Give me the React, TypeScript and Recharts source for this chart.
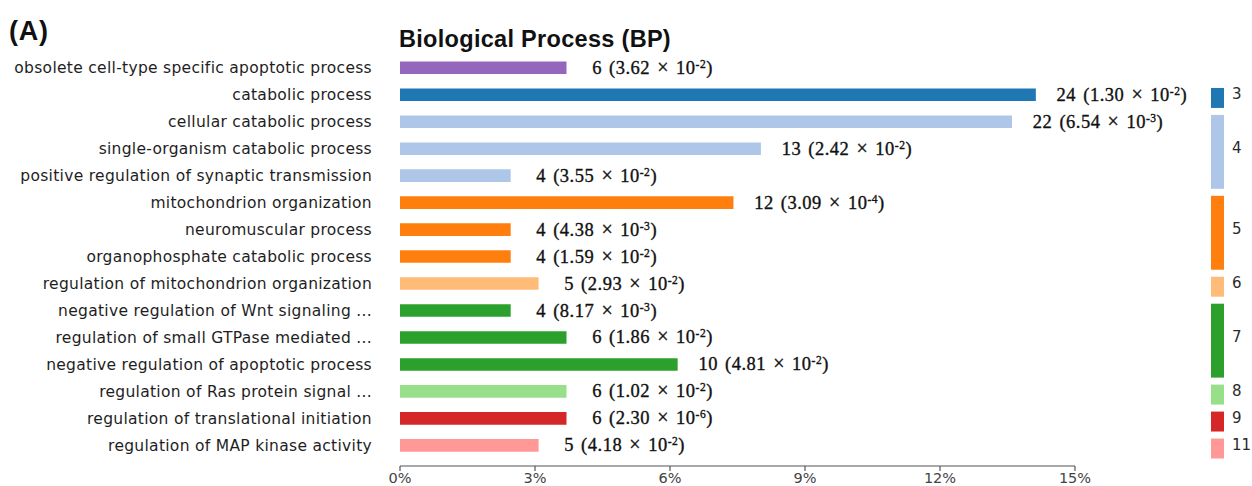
import React from 'react';
import { BarChart, Bar, XAxis, YAxis, Cell, LabelList } from 'recharts';

const categories = [
  'obsolete cell-type specific apoptotic process',
  'catabolic process',
  'cellular catabolic process',
  'single-organism catabolic process',
  'positive regulation of synaptic transmission',
  'mitochondrion organization',
  'neuromuscular process',
  'organophosphate catabolic process',
  'regulation of mitochondrion organization',
  'negative regulation of Wnt signaling ...',
  'regulation of small GTPase mediated ...',
  'negative regulation of apoptotic process',
  'regulation of Ras protein signal ...',
  'regulation of translational initiation',
  'regulation of MAP kinase activity',
];
const percents = [3.7, 14.13, 13.6, 8.02, 2.46, 7.41, 2.46, 2.46, 3.08, 2.46, 3.7, 6.17, 3.7, 3.7, 3.08];
const counts = [6, 24, 22, 13, 4, 12, 4, 4, 5, 4, 6, 10, 6, 6, 5];
const pMantissa = ['3.62', '1.30', '6.54', '2.42', '3.55', '3.09', '4.38', '1.59', '2.93', '8.17', '1.86', '4.81', '1.02', '2.30', '4.18'];
const pExponent = [2, 2, 3, 2, 2, 4, 3, 2, 2, 3, 2, 2, 2, 6, 2];
const clusters: (number | null)[] = [null, 3, 4, 4, 4, 5, 5, 5, 6, 7, 7, 7, 8, 9, 11];
const barColors = [
  '#9467bd', '#1f77b4', '#aec7e8', '#aec7e8', '#aec7e8', '#ff7f0e', '#ff7f0e', '#ff7f0e',
  '#ffbb78', '#2ca02c', '#2ca02c', '#2ca02c', '#98df8a', '#d62728', '#ff9896',
];
const xTicks = [0, 3, 6, 9, 12, 15];

const data = categories.map((c, i) => ({
  category: c,
  pct: percents[i],
  count: counts[i],
  mant: pMantissa[i],
  exp: pExponent[i],
  cluster: clusters[i],
  color: barColors[i],
}));

const SANS = 'DejaVu Sans, Bitstream Vera Sans, sans-serif';

const CategoryTick = (props: any) => {
  const { x, y, payload } = props;
  return (
    <text x={x} y={y} dy={5.5} textAnchor="end" fontFamily={SANS} fontSize={15.5} letterSpacing={0.3} fill="#1e1e1e">
      {payload.value}
    </text>
  );
};

const ClusterTick = (props: any) => {
  const { x, y, index } = props;
  const c = clusters[index];
  if (c == null) return null;
  const band = props.payload && props.payload.offset ? props.payload.offset * 2 : 27;
  const first = index === 0 || clusters[index - 1] !== c;
  const last = index === clusters.length - 1 || clusters[index + 1] !== c;
  const top = y - band / 2 + (first ? 6.5 : -0.5);
  const bottom = y + band / 2 - (last ? 0.5 : -0.5);
  let groupStart = index;
  while (groupStart > 0 && clusters[groupStart - 1] === c) groupStart--;
  let groupEnd = index;
  while (groupEnd < clusters.length - 1 && clusters[groupEnd + 1] === c) groupEnd++;
  const isMid = index === Math.floor((groupStart + groupEnd) / 2);
  return (
    <g>
      <rect x={x + 136} y={top} width={13} height={bottom - top} fill={barColors[index]} />
      {isMid && (
        <text x={x + 157} y={y} dy={4.5} textAnchor="start" fontFamily={SANS} fontSize={15} fill="#2a2a2a">
          {c}
        </text>
      )}
    </g>
  );
};

const ValueLabel = (props: any) => {
  const { x, y, width, height } = props;
  let idx = props.index;
  if (idx == null) idx = data.findIndex((d) => d.category === props.value);
  const d = data[idx];
  if (!d) return null;
  const cx = Number(x) + Number(width) + 86;
  const cy = Number(y) + Number(height) / 2;
  return (
    <text x={cx} y={cy} dy={6} textAnchor="middle" fontFamily="Liberation Serif, Times New Roman, serif" fontSize={18.5} letterSpacing={0.5} wordSpacing={2} fill="#111" stroke="#111" strokeWidth={0.35}>
      {`${d.count} (${d.mant} `}
      <tspan fontSize={20}>×</tspan>
      {' 10'}
      <tspan fontSize={11.5} dy={-6}>{`-${d.exp}`}</tspan>
      <tspan dy={6}>)</tspan>
    </text>
  );
};

export default function App() {
  return (
    <div style={{ position: 'absolute', left: 0, top: 0, width: 1252, height: 486, background: '#fff' }}>
      <BarChart
        width={1252}
        height={486}
        data={data}
        layout="vertical"
        margin={{ top: 47.5, right: 0, bottom: 0, left: 0 }}
        barCategoryGap={0}
      >
        <XAxis
          type="number"
          dataKey="pct"
          domain={[0, 15]}
          ticks={xTicks}
          allowDataOverflow
          height={20}
          tickFormatter={(v: number) => `${v}%`}
          tick={{ fontFamily: SANS, fontSize: 14.5, fill: '#444' }}
          tickSize={5}
          tickMargin={1.5}
          axisLine={{ stroke: '#555', strokeWidth: 1.2 }}
          tickLine={{ stroke: '#555', strokeWidth: 1.2 }}
        />
        <YAxis
          yAxisId="left"
          type="category"
          dataKey="category"
          width={400}
          padding={{ top: 7, bottom: 7 }}
          axisLine={false}
          tickLine={false}
          tickSize={0}
          tickMargin={28}
          interval={0}
          tick={<CategoryTick />}
        />
        <YAxis
          yAxisId="right"
          orientation="right"
          type="category"
          dataKey="category"
          width={177}
          padding={{ top: 7, bottom: 7 }}
          axisLine={false}
          tickLine={false}
          tickSize={0}
          tickMargin={0}
          interval={0}
          tick={<ClusterTick />}
        />
        <Bar dataKey="pct" yAxisId="left" barSize={12.6} isAnimationActive={false}>
          {data.map((d, i) => (
            <Cell key={i} fill={d.color} />
          ))}
          <LabelList dataKey="category" content={<ValueLabel />} />
        </Bar>
      </BarChart>
      <svg width={1252} height={486} style={{ position: 'absolute', left: 0, top: 0, pointerEvents: 'none' }}>
        <text x={9} y={40} fontFamily="Liberation Sans, Arial, sans-serif" fontWeight="bold" fontSize={27} letterSpacing={0.8} fill="#111">
          (A)
        </text>
        <text x={399} y={47} fontFamily="Liberation Sans, Arial, sans-serif" fontWeight="bold" fontSize={23.5} letterSpacing={0.3} fill="#111">
          Biological Process (BP)
        </text>
      </svg>
    </div>
  );
}
